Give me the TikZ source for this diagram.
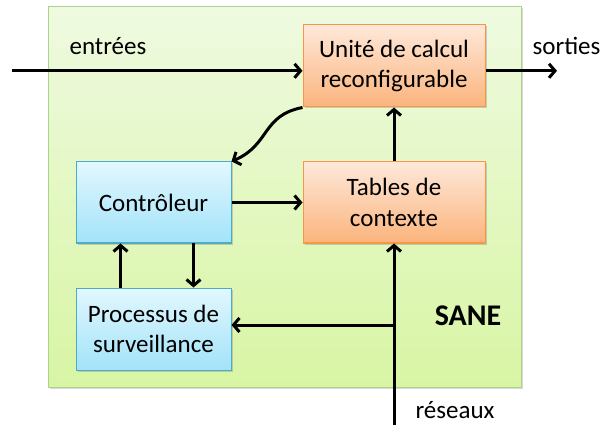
\documentclass[tikz,border=0pt]{standalone}
\usepackage{fontspec}
\setmainfont{Carlito}
\usetikzlibrary{arrows.meta,shadows,calc}

\definecolor{saneTop}{HTML}{EFFAE0}
\definecolor{saneBot}{HTML}{D8F5A4}
\definecolor{saneLine}{HTML}{ABD38C}
\definecolor{orTop}{HTML}{FEE8DA}
\definecolor{orBot}{HTML}{FBB47C}
\definecolor{orLine}{HTML}{F79646}
\definecolor{blTop}{HTML}{E2F7FE}
\definecolor{blBot}{HTML}{A2E3F9}
\definecolor{blLine}{HTML}{4BACC6}

\tikzset{
  boxbase/.style={rectangle, line width=1pt, align=center,
    font=\fontsize{25}{30.5}\selectfont,
    drop shadow={shadow xshift=1.5pt, shadow yshift=-1.5pt, opacity=0.35}},
  orbox/.style={boxbase, draw=orLine, top color=orTop, bottom color=orBot},
  blbox/.style={boxbase, draw=blLine, top color=blTop, bottom color=blBot},
  flow/.style={line width=3pt, -{Straight Barb[length=6pt,width=14pt,line width=3pt]}},
  plain/.style={line width=3pt},
  lbl/.style={anchor=base, inner sep=0pt, font=\fontsize{25}{30}\selectfont},
}

\begin{document}
\begin{tikzpicture}[x=1pt, y=-1pt]
\useasboundingbox (0,0) rectangle (603,425);

% enclosing system
\node[rectangle, line width=1pt, draw=saneLine, top color=saneTop, bottom color=saneBot,
      minimum width=473pt, minimum height=380pt, inner sep=0pt,
      drop shadow={shadow xshift=1.5pt, shadow yshift=-1.5pt, opacity=0.3}]
  (sane) at (284.5,197) {};

% blocks
\node[orbox, minimum width=182pt, minimum height=82pt] (ucr) at (394,66)
  {Unité de calcul\\reconfigurable};
\node[orbox, minimum width=182pt, minimum height=81pt] (tdc) at (394,202.5)
  {Tables de\\contexte};
\node[blbox, minimum width=155pt, minimum height=81pt] (ctl) at (153.5,202.5)
  {Contrôleur};
\node[blbox, minimum width=155pt, minimum height=82pt] (prs) at (153.5,329)
  {Processus de\\surveillance};

% labels
\node[lbl] (lin)  at (108,55)   {entrées};
\node[lbl] (lout) at (566.5,55) {sorties};
\node[lbl] (lnet) at (455,418)  {réseaux};
\node[lbl, font=\fontsize{30}{34}\selectfont\bfseries] (lsane) at (468,325) {SANE};

% free ends and junction
\coordinate (in)  at (12,70.8);
\coordinate (out) at (557,70.8);
\coordinate (net) at (394,425);
\coordinate (jn)  at (394,325);

% connectors
\draw[flow] (in) -- (in -| ucr.west);
\draw[flow] (ucr.east |- out) -- (out);
\draw[flow] (tdc.north) -- (ucr.south);
\draw[flow] (ctl.east) -- (tdc.west);
\draw[flow] (ucr.south west) .. controls +(-41,8) and +(39,-17) .. (ctl.north east);
\draw[flow] ([xshift=45pt]prs.north west) -- ([xshift=45pt]ctl.south west);
\draw[flow] ([xshift=118pt]ctl.south west) -- ([xshift=118pt]prs.north west);
\draw[flow] (net) -- (tdc.south);
\draw[flow] (jn) -- (jn -| prs.east);
\end{tikzpicture}
\end{document}
